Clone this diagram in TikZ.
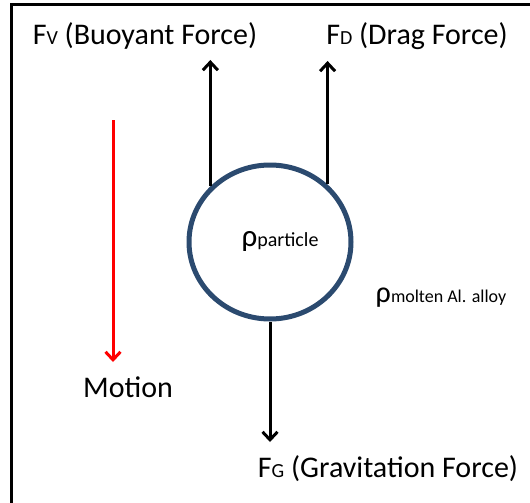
\documentclass[tikz,border=0pt]{standalone}
\usepackage{fontspec}
\setmainfont{Carlito}
\usetikzlibrary{positioning,arrows.meta,shapes.geometric}
\definecolor{rimblue}{RGB}{43,74,111}
\newcommand{\idx}[1]{{\fontsize{20}{22}\selectfont #1}}

\begin{document}
\begin{tikzpicture}[x=1pt, y=-1pt,
  force/.style={line width=3pt, -{Straight Barb[length=8pt, width=15pt, line width=3pt]}},
  motion/.style={force, red},
  lbl/.style={anchor=base, inner sep=0pt, font=\fontsize{30}{34}\selectfont},
  small/.style={anchor=base, inner sep=0pt, font=\fontsize{18}{22}\selectfont}
]
\useasboundingbox (0,0) rectangle (530,503);
% frame
\draw[line width=3pt] (11,503) -- (11,5) -- (530,5);

\node[draw=rimblue, line width=5pt, ellipse, inner sep=0pt,
      minimum width=162pt, minimum height=154pt] (particle) at (270,242) {};
\node[small, font=\fontsize{20}{22}\selectfont] (rhop) at (280,246) {{\fontsize{31}{30}\selectfont ρ}particle};
\node[small] (rhom) at (441,302) {{\fontsize{30}{30}\selectfont ρ}molten Al. alloy};

% forces
\node[lbl] (fv) at (145,45) {F\idx{V} (Buoyant Force)};
\node[lbl] (fd) at (417,45) {F\idx{D} (Drag Force)};
\node[lbl] (fg) at (388,477) {F\idx{G} (Gravitation Force)};
\coordinate (fvtip) at (212,60);
\coordinate (fdtip) at (326,61);
\coordinate (fgtip) at (270,442);
\draw[force] (particle.137) -- (particle.137 |- fvtip);
\draw[force] (particle.45) -- (particle.45 |- fdtip);
\draw[force] (particle.south) -- (fgtip);

% motion
\coordinate (mtop) at (113,120);
\node[lbl] (mot) at (128,397) {Motion};
\coordinate (mtip) at (113,362);
\draw[motion] (mtop) -- (mtip);
\end{tikzpicture}
\end{document}
